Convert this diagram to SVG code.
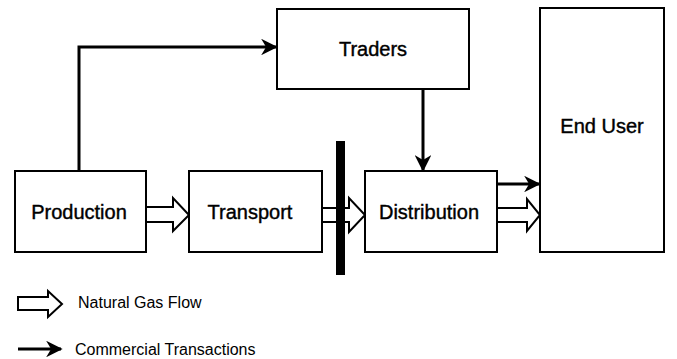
<svg xmlns="http://www.w3.org/2000/svg" width="677" height="359" viewBox="0 0 677 359">
<style>
.box{fill:#fff;stroke:#000;stroke-width:2}
.lbl{font-family:"Liberation Sans",Arial,sans-serif;font-size:20px;fill:#000;stroke:#000;stroke-width:0.4;text-anchor:middle;dominant-baseline:central}
.leg{font-family:"Liberation Sans",Arial,sans-serif;font-size:16px;fill:#000;dominant-baseline:central}
.gas{fill:#fff;stroke:#000;stroke-width:2;stroke-linejoin:miter}
.tx{fill:none;stroke:#000;stroke-width:3;marker-end:url(#ah)}
</style>
<defs>
<marker id="ah" viewBox="0 0 10 10" refX="9" refY="5" markerWidth="5.5" markerHeight="5.5" orient="auto" markerUnits="strokeWidth">
<path d="M0,0 L10,5 L0,10 L3,5 Z" fill="#000"/>
</marker>
</defs>
<g id="connectors">
<path class="tx" d="M79,171 V47 H276"/>
<path class="tx" d="M423,89 V170"/>
<path class="tx" d="M497,184 H539"/>
<path class="gas" d="M146,207 H173 V198 L189,215 L173,231 V222 H146"/>
<path class="gas" d="M322,208 H349 V198 L365,215 L349,232 V222 H322"/>
<path class="gas" d="M497,208 H527 V199 L540,215 L527,231 V222 H497"/>
<rect id="meter" x="336" y="141" width="9" height="134" fill="#000"/>
</g>
<g id="production"><rect class="box" x="15" y="171" width="131" height="81"/><text class="lbl" x="79" y="212">Production</text></g>
<g id="transport"><rect class="box" x="189" y="171" width="133" height="81"/><text class="lbl" x="250" y="212">Transport</text></g>
<g id="distribution"><rect class="box" x="365" y="171" width="132" height="81"/><text class="lbl" x="429" y="212">Distribution</text></g>
<g id="traders"><rect class="box" x="277" y="9" width="192" height="80"/><text class="lbl" x="373" y="49">Traders</text></g>
<g id="enduser"><rect class="box" x="540" y="8" width="124" height="244"/><text class="lbl" x="602" y="126">End User</text></g>
<g id="legend">
<path class="gas" d="M18,297 H48 V291 L62,304 L48,317 V310 H18 Z"/>
<text class="leg" x="78" y="302">Natural Gas Flow</text>
<path class="tx" d="M18,349 H61"/>
<text class="leg" x="75" y="349">Commercial Transactions</text>
</g>
</svg>
